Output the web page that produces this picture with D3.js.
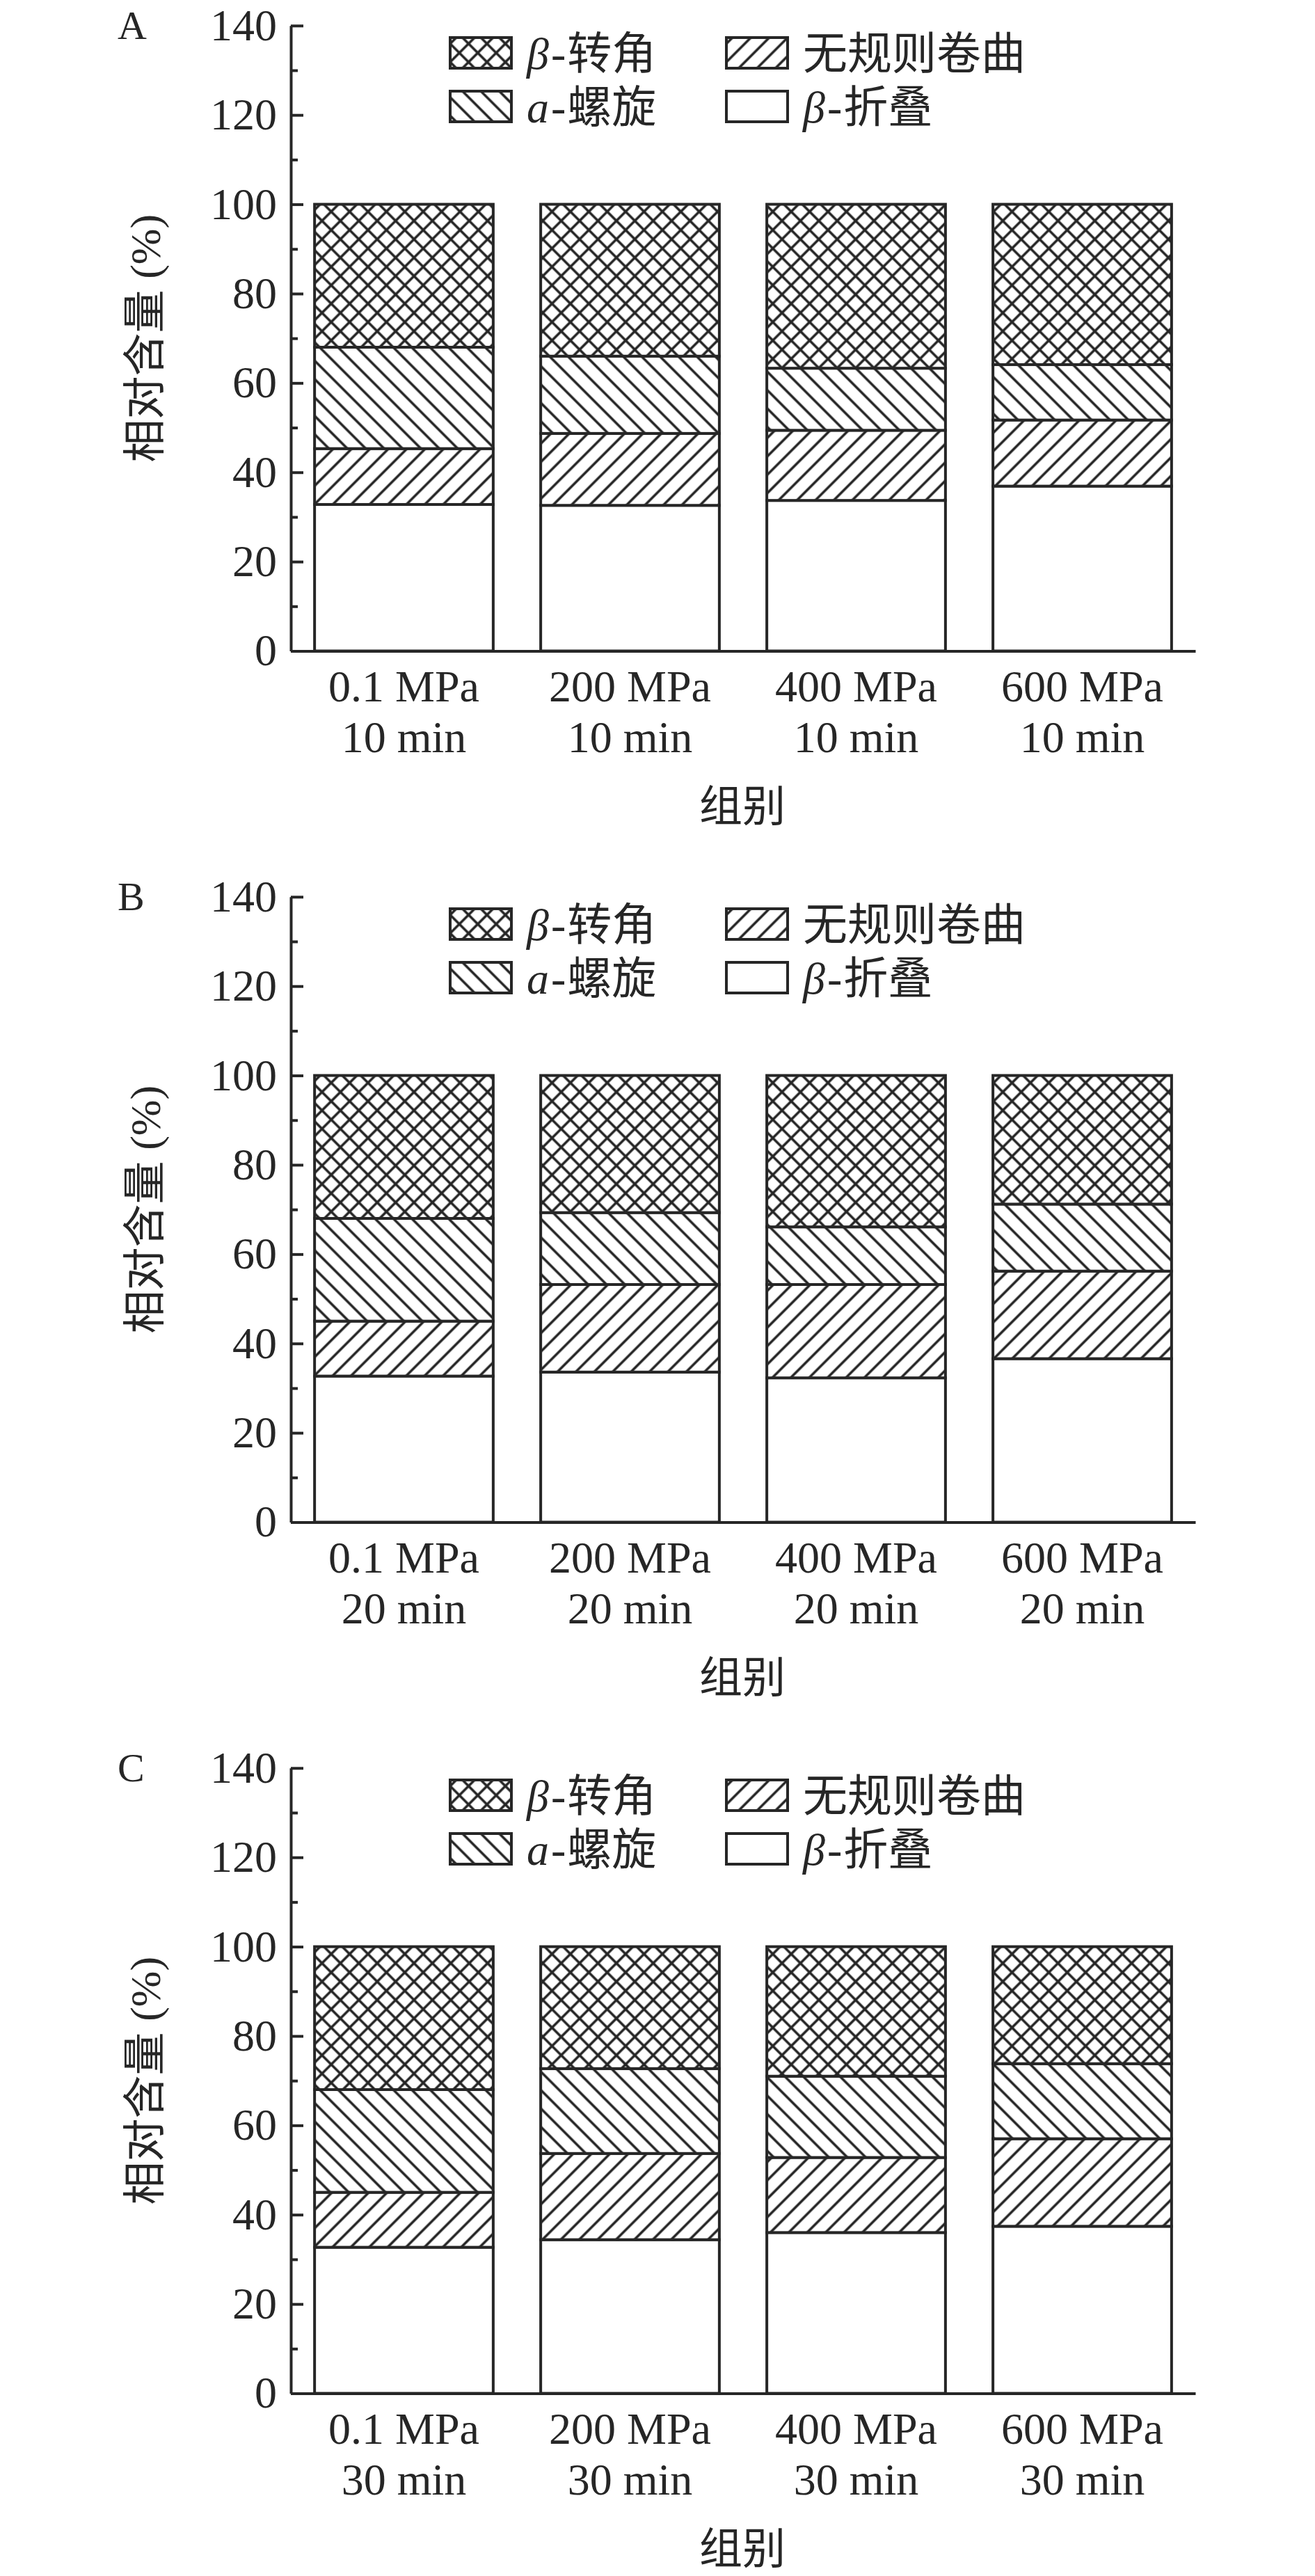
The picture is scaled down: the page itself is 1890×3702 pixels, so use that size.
<!DOCTYPE html>
<html>
<head>
    <meta charset="utf-8">
    <title>Secondary structure</title>
    <script src="https://d3js.org/d3.v7.min.js"></script>
    <style>
        body { margin: 0; background: #fff; }
        .serif { font-family: "Liberation Serif", "Times New Roman", serif; }
        .cjk { font-family: "Noto Sans CJK SC", sans-serif; }
    </style>
</head>
<body>
    <svg width="1890" height="3702" id="chart"></svg>

    <script>
        // Data
        const pressures = ["0.1 MPa", "200 MPa", "400 MPa", "600 MPa"];
        const panels = ["A", "B", "C"];
        const times = ["10 min", "20 min", "30 min"];
        const yTicks = [0, 20, 40, 60, 80, 100, 120, 140];
        const yMinor = [10, 30, 50, 70, 90, 110, 130];

        // segment values (%), bottom to top: β-折叠, 无规则卷曲, α-螺旋, β-转角
        const sheetA = [32.8, 32.6, 33.7, 36.9];
        const coilA  = [12.5, 16.1, 15.7, 14.8];
        const helixA = [22.7, 17.3, 13.9, 12.4];
        const turnA  = [32.0, 34.0, 36.7, 35.9];

        const sheetB = [32.7, 33.6, 32.3, 36.6];
        const coilB  = [12.3, 19.6, 20.9, 19.6];
        const helixB = [23.0, 16.1, 12.9, 15.0];
        const turnB  = [32.0, 30.7, 33.9, 28.8];

        const sheetC = [32.7, 34.4, 36.0, 37.4];
        const coilC  = [12.3, 19.3, 16.8, 19.6];
        const helixC = [23.0, 19.0, 18.2, 16.8];
        const turnC  = [32.0, 27.3, 29.0, 26.2];

        const seriesKeys = ["sheet", "coil", "helix", "turn"];
        const panelData = [
            { sheet: sheetA, coil: coilA, helix: helixA, turn: turnA },
            { sheet: sheetB, coil: coilB, helix: helixB, turn: turnB },
            { sheet: sheetC, coil: coilC, helix: helixC, turn: turnC }
        ];

        const ink = "#262626";
        const svg = d3.select("#chart");

        // hatch patterns
        const defs = svg.append("defs");
        const step = 18.7;
        function hatch(id, angle, cross) {
            const p = defs.append("pattern")
                .attr("id", id)
                .attr("patternUnits", "userSpaceOnUse")
                .attr("width", step).attr("height", step)
                .attr("patternTransform", `rotate(${angle})`);
            p.append("rect").attr("width", step).attr("height", step).attr("fill", "#fff");
            p.append("line")
                .attr("x1", step / 2).attr("x2", step / 2)
                .attr("y1", -1).attr("y2", step + 1)
                .attr("stroke", ink).attr("stroke-width", 3.6);
            if (cross) {
                p.append("line")
                    .attr("y1", step / 2).attr("y2", step / 2)
                    .attr("x1", -1).attr("x2", step + 1)
                    .attr("stroke", ink).attr("stroke-width", 3.6);
            }
        }
        hatch("pat-turn", 45, true);
        hatch("pat-coil", 45, false);
        hatch("pat-helix", -45, false);

        const fills = {
            sheet: "#fff",
            coil: "url(#pat-coil)",
            helix: "url(#pat-helix)",
            turn: "url(#pat-turn)"
        };

        const x = d3.scaleBand()
            .domain(pressures)
            .range([418, 1718])
            .paddingInner(0.21)
            .paddingOuter(0.105);

        const y = d3.scaleLinear()
            .domain([0, 140])
            .range([935.5, 36.8]);

        const stack = d3.stack().keys(seriesKeys);

        panels.forEach((name, pi) => {
            const g = svg.append("g")
                .attr("transform", `translate(0,${pi * 1252})`);

            const rows = pressures.map((p, i) => {
                const r = { p: p };
                seriesKeys.forEach(k => { r[k] = panelData[pi][k][i]; });
                return r;
            });
            const layers = stack(rows);

            // bars
            g.append("g").selectAll("g")
                .data(layers)
                .enter().append("g")
                .attr("fill", d => fills[d.key])
                .selectAll("rect")
                .data(d => d)
                .enter().append("rect")
                .attr("x", d => x(d.data.p))
                .attr("width", x.bandwidth())
                .attr("y", d => y(d[1]))
                .attr("height", d => y(d[0]) - y(d[1]))
                .attr("stroke", ink)
                .attr("stroke-width", 4);

            // y axis
            const yAxis = g.append("g")
                .attr("transform", "translate(418,0)")
                .call(d3.axisLeft(y)
                    .tickValues(yTicks)
                    .tickSizeInner(-18)
                    .tickSizeOuter(0)
                    .tickPadding(20));
            const yMinorAxis = g.append("g")
                .attr("transform", "translate(418,0)")
                .call(d3.axisLeft(y)
                    .tickValues(yMinor)
                    .tickSizeInner(-10)
                    .tickSizeOuter(0)
                    .tickFormat(""));
            yMinorAxis.select(".domain").remove();

            // x axis
            const xAxis = g.append("g")
                .attr("transform", `translate(0,${y(0)})`)
                .call(d3.axisBottom(x).tickSize(0).tickSizeOuter(0).tickFormat(""));

            [yAxis, yMinorAxis, xAxis].forEach(a => {
                a.selectAll("path, line").attr("stroke", ink).attr("stroke-width", 4);
            });
            yAxis.selectAll("text")
                .attr("class", "serif")
                .attr("font-size", 64)
                .attr("fill", ink);

            // x labels (two lines)
            const xl = g.append("g").selectAll("text")
                .data(pressures)
                .enter().append("text")
                .attr("class", "serif")
                .attr("font-size", 64)
                .attr("fill", ink)
                .attr("text-anchor", "middle");
            xl.append("tspan")
                .attr("x", d => x(d) + x.bandwidth() / 2)
                .attr("y", 1008)
                .text(d => d);
            xl.append("tspan")
                .attr("x", d => x(d) + x.bandwidth() / 2)
                .attr("y", 1081)
                .text(times[pi]);

            // axis titles
            g.append("text")
                .attr("class", "cjk")
                .attr("font-size", 62)
                .attr("fill", ink)
                .attr("text-anchor", "middle")
                .attr("x", 1067).attr("y", 1181)
                .text("组别");

            const yl = g.append("text")
                .attr("font-size", 62)
                .attr("fill", ink)
                .attr("text-anchor", "middle")
                .attr("dy", "0.35em")
                .attr("transform", `translate(208,${(y(0) + y(140)) / 2}) rotate(-90)`);
            yl.append("tspan").attr("class", "cjk").text("相对含量");
            yl.append("tspan").attr("class", "serif").text(" (%)");

            // panel letter
            g.append("text")
                .attr("class", "serif")
                .attr("font-size", 58)
                .attr("fill", ink)
                .attr("x", 169).attr("y", 56)
                .text(name);

            // legend
            const legendItems = [
                { key: "turn", pre: "β", rest: "转角", col: 0, row: 0 },
                { key: "coil", pre: "", rest: "无规则卷曲", col: 1, row: 0 },
                { key: "helix", pre: "a", rest: "螺旋", col: 0, row: 1 },
                { key: "sheet", pre: "β", rest: "折叠", col: 1, row: 1 }
            ];
            const colX = [647, 1044];
            const rowY = [76, 153];
            const lg = g.append("g").selectAll("g")
                .data(legendItems)
                .enter().append("g")
                .attr("transform", d => `translate(${colX[d.col]},${rowY[d.row]})`);
            lg.append("rect")
                .attr("x", 0).attr("y", -22)
                .attr("width", 88).attr("height", 44)
                .attr("fill", d => fills[d.key])
                .attr("stroke", ink)
                .attr("stroke-width", 4);
            const lt = lg.append("text")
                .attr("x", 110)
                .attr("dy", "0.36em")
                .attr("font-size", 64)
                .attr("fill", ink);
            lt.filter(d => d.pre)
                .append("tspan")
                .attr("class", "serif")
                .attr("font-style", "italic")
                .text(d => d.pre);
            lt.filter(d => d.pre)
                .append("tspan")
                .attr("class", "serif")
                .attr("dx", 3)
                .text("-");
            lt.append("tspan")
                .attr("class", "cjk")
                .attr("dx", d => d.pre ? 2 : 0)
                .text(d => d.rest);
        });
    </script>
</body>
</html>
